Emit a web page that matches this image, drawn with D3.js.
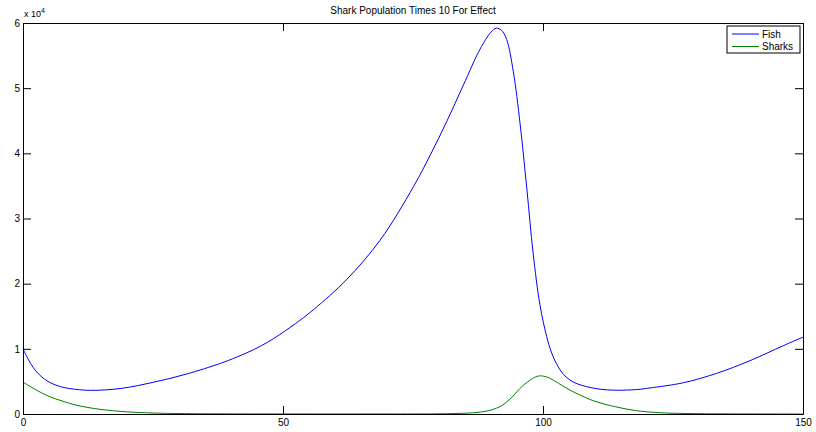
<!DOCTYPE html>
<html>
<head>
<meta charset="utf-8">
<script src="https://cdn.jsdelivr.net/npm/d3@7/dist/d3.min.js"></script>
<style>
  html, body { margin: 0; padding: 0; background: #fff; }
  svg { display: block; }
  text { font-family: "Liberation Sans", Arial, Helvetica, sans-serif; fill: #000; }
</style>
</head>
<body>
<svg id="chart" width="816" height="432"></svg>
<script>
// ---- data ----
const title = "Shark Population Times 10 For Effect";
const seriesNames = ["Fish", "Sharks"];
const xTicks = [0, 50, 100, 150];
const yTicks = [0, 1, 2, 3, 4, 5, 6];          // in units of 1e4
const yExponent = 4;

const fishTime = [0, 1, 2, 3.3, 5, 7, 9, 13, 19, 25, 31.5, 38, 41, 44.3, 47, 49.4, 53.3, 56, 62.2, 68.7, 75.1, 78.3, 81.5, 84.7, 87.9, 90, 91, 92, 93, 94.3, 95.6, 96.9, 98.1, 99.4, 100.7, 101.6, 102.6, 103.8, 105.2, 106.7, 108.4, 111, 114, 118, 120.6, 127, 133.4, 139.8, 146.2, 150];
const fishValues = [10000, 8400, 7100, 5900, 4900, 4250, 3900, 3630, 3940, 4860, 6140, 7780, 8700, 9850, 11000, 12200, 14400, 16100, 20600, 26700, 34900, 39700, 44900, 50500, 56000, 58600, 59200, 58900, 57500, 52500, 44500, 34500, 24700, 16800, 11900, 9500, 7700, 6200, 5200, 4600, 4200, 3800, 3650, 3750, 4000, 4800, 6240, 8180, 10480, 11800];

const sharkTime = [0, 2.5, 5, 7.5, 10, 12.5, 15, 20, 25, 30, 40, 50, 60, 70, 80, 85, 88, 90, 92, 93, 94, 96, 98, 99.3, 101, 103, 105, 107, 110, 114, 118, 122, 126, 130, 140, 150];
const sharkValues = [4900, 3700, 2700, 2000, 1400, 1000, 700, 330, 150, 70, 20, 5, 3, 5, 30, 120, 300, 600, 1250, 1850, 2550, 4250, 5450, 5850, 5600, 4700, 3750, 2950, 1950, 1100, 500, 220, 100, 50, 10, 3];

// ---- layout ----
const svg = d3.select("#chart");
const margin = { left: 23, top: 23, right: 13, bottom: 18 };
const W = 816, H = 432;
const x0 = margin.left, x1 = W - margin.right;
const y0 = H - margin.bottom, y1 = margin.top;

const x = d3.scaleLinear().domain([0, 150]).range([x0, x1]);
const y = d3.scaleLinear().domain([0, 6 * Math.pow(10, yExponent)]).range([y0, y1]);
const tickLen = 8;

const fish = fishTime.map((t, i) => ({ t, v: fishValues[i] }));
const sharks = sharkTime.map((t, i) => ({ t, v: sharkValues[i] }));

const line = d3.line().x(d => x(d.t)).y(d => y(Math.max(0, d.v))).curve(d3.curveCatmullRom.alpha(0.5));

// lines
const g = svg.append("g");
g.append("path").datum(fish).attr("d", line)
  .attr("fill", "none").attr("stroke", "#0000ff").attr("stroke-width", 1);
g.append("path").datum(sharks).attr("d", line)
  .attr("fill", "none").attr("stroke", "#008000").attr("stroke-width", 1);

// axes (MATLAB-style box with inward ticks)
const axB = d3.axisBottom(x).tickValues(xTicks).tickSizeInner(-tickLen).tickSizeOuter(0).tickPadding(5).tickFormat(d3.format("d"));
const axT = d3.axisTop(x).tickValues(xTicks).tickSizeInner(-tickLen).tickSizeOuter(0).tickFormat("");
const yScaleTicks = yTicks.map(v => v * Math.pow(10, yExponent));
const axL = d3.axisLeft(y).tickValues(yScaleTicks).tickSizeInner(-tickLen).tickSizeOuter(0).tickPadding(3).tickFormat(d => d3.format("d")(d / Math.pow(10, yExponent)));
const axR = d3.axisRight(y).tickValues(yScaleTicks).tickSizeInner(-tickLen).tickSizeOuter(0).tickFormat("");

function styleAxis(sel) {
  sel.selectAll(".domain").attr("stroke", "#000").attr("stroke-width", 1);
  sel.selectAll(".tick line").attr("stroke", "#000").attr("stroke-width", 1);
  sel.selectAll(".tick text").style("font-family", "'Liberation Sans', Arial, sans-serif").style("font-size", "10px").attr("fill", "#000");
}
svg.append("g").attr("transform", `translate(0,${y0})`).call(axB).call(styleAxis);
svg.append("g").attr("transform", `translate(0,${y1})`).call(axT).call(styleAxis);
svg.append("g").attr("transform", `translate(${x0},0)`).call(axL).call(styleAxis);
svg.append("g").attr("transform", `translate(${x1},0)`).call(axR).call(styleAxis);

// exponent label
const expText = svg.append("text").attr("x", x0 + 1).attr("y", y1 - 6)
  .style("font-size", "9px");
expText.append("tspan").text("x 10");
expText.append("tspan").attr("dy", -4).style("font-size", "7px").text(String(yExponent));

// title
svg.append("text").attr("x", (x0 + x1) / 2).attr("y", 14)
  .attr("text-anchor", "middle").style("font-size", "10px").text(title);

// legend
const lg = svg.append("g");
const lx = 727, ly = 26, lw = 73, lh = 27;
lg.append("rect").attr("x", lx).attr("y", ly).attr("width", lw).attr("height", lh)
  .attr("fill", "#fff").attr("stroke", "#000").attr("stroke-width", 1);
const colors = ["#0000ff", "#008000"];
seriesNames.forEach((name, i) => {
  const yy = ly + 8 + i * 12.5;
  lg.append("line").attr("x1", lx + 5).attr("x2", lx + 32).attr("y1", yy).attr("y2", yy)
    .attr("stroke", colors[i]).attr("stroke-width", 1);
  lg.append("text").attr("x", lx + 35).attr("y", yy).attr("dy", "0.35em")
    .style("font-size", "10px").text(name);
});
</script>
</body>
</html>
